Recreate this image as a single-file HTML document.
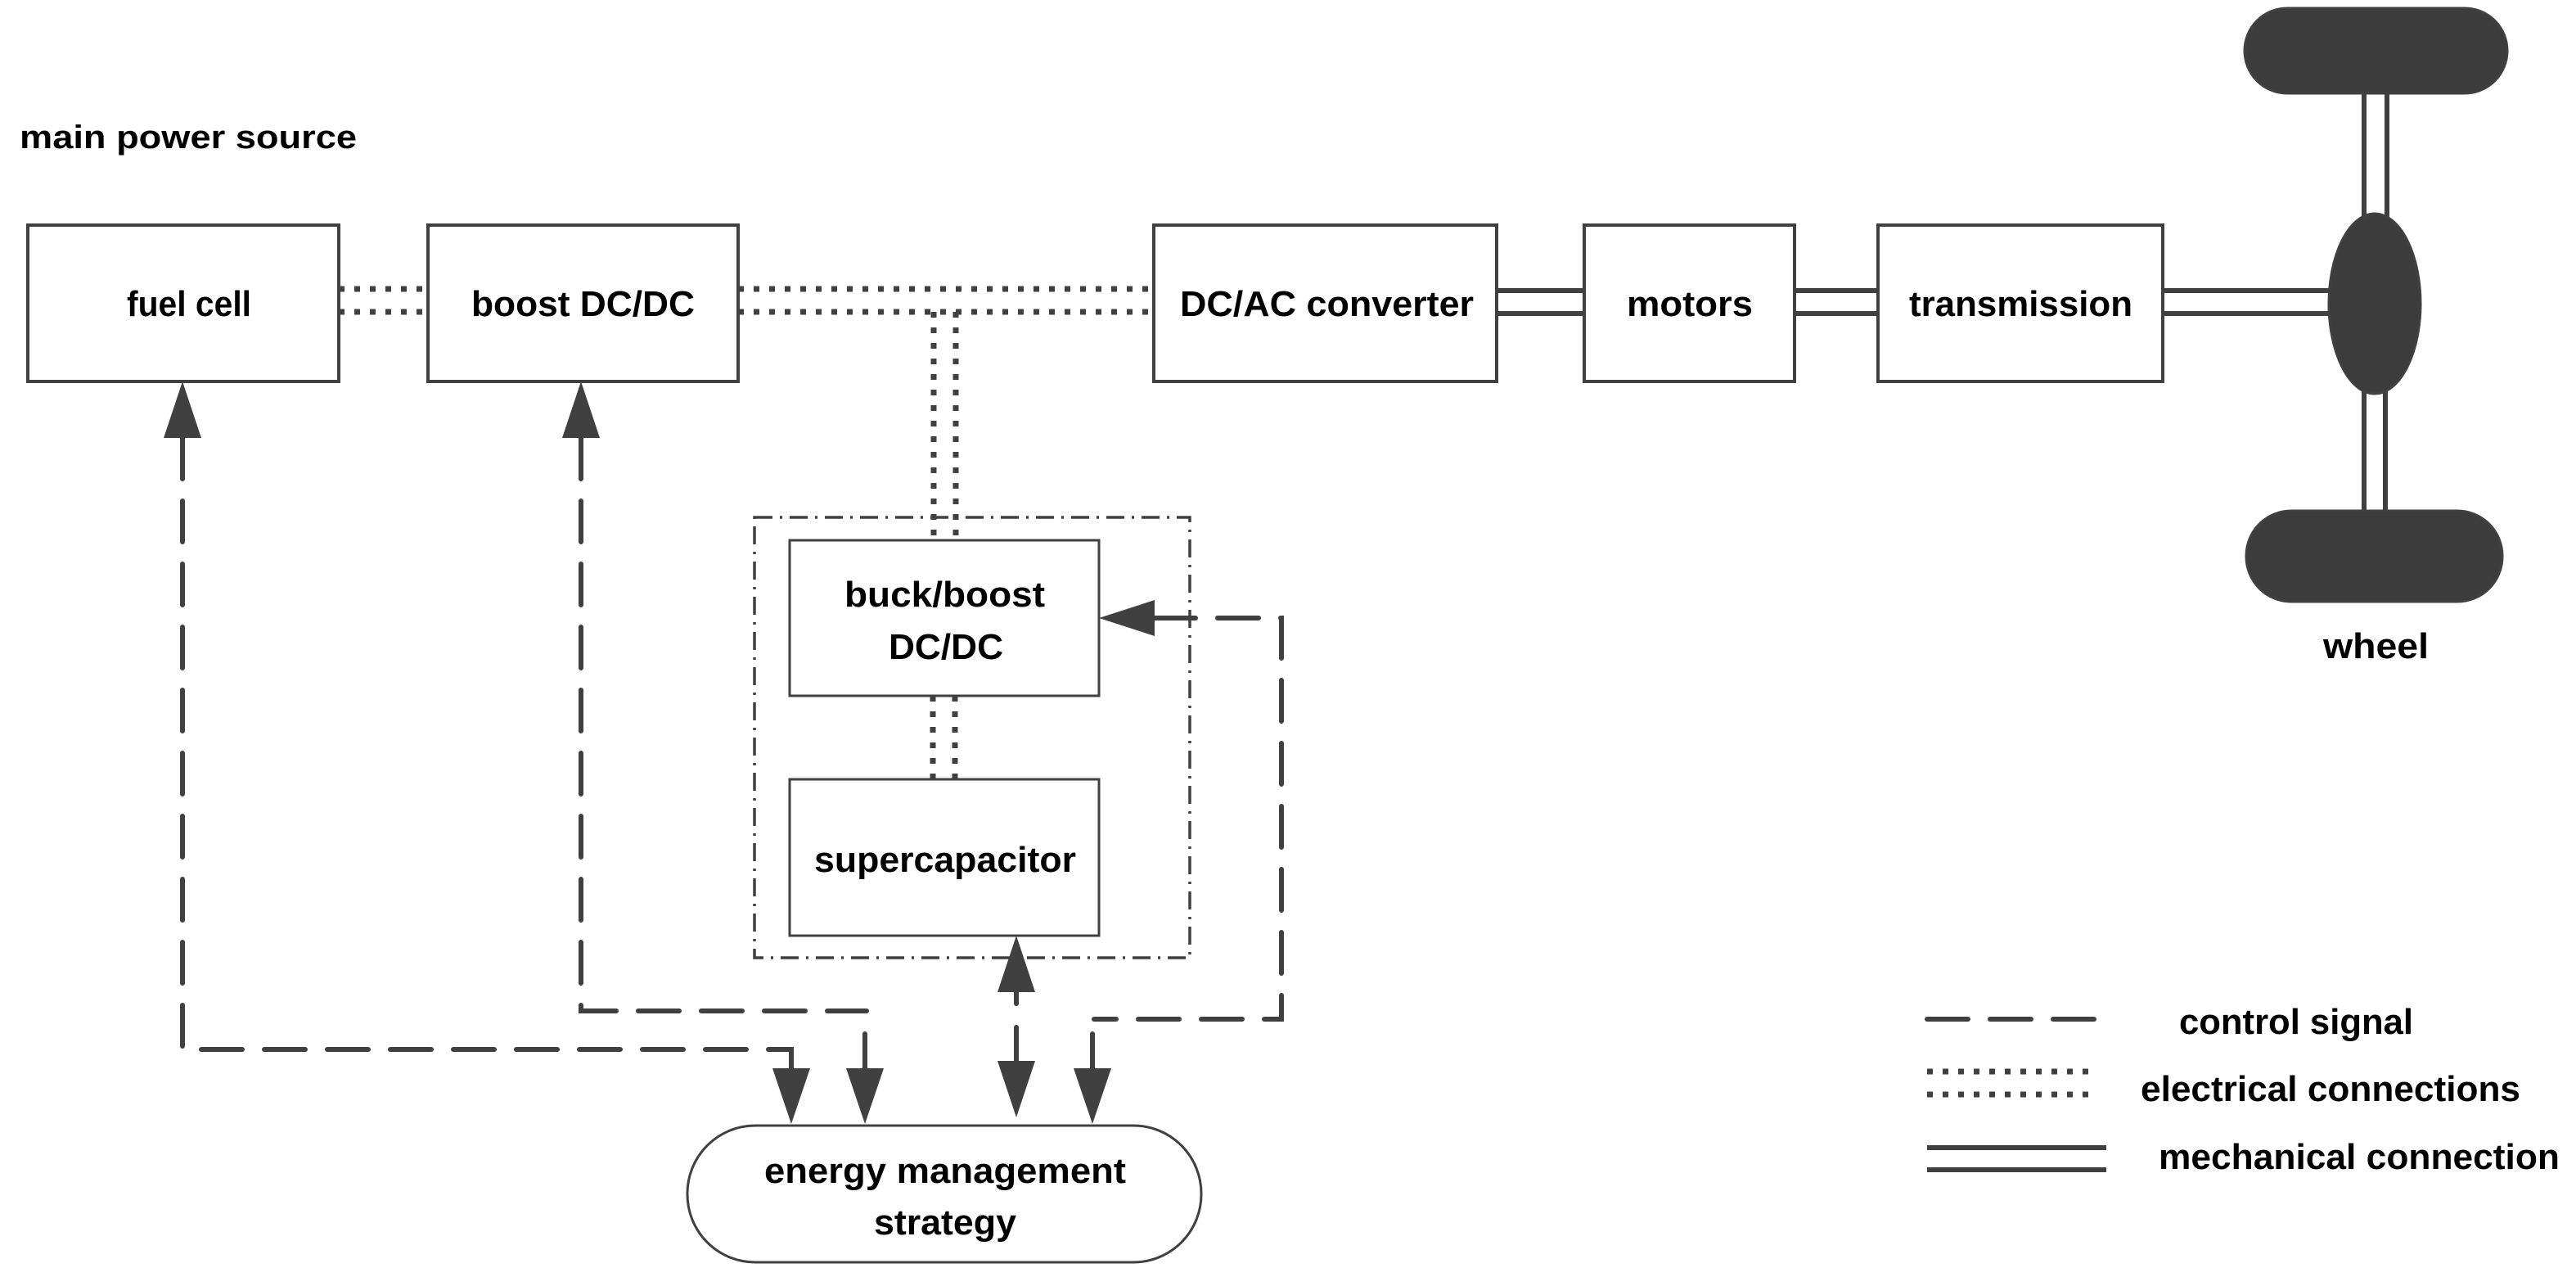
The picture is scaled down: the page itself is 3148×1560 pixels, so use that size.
<!DOCTYPE html>
<html><head><meta charset="utf-8"><style>html,body{margin:0;padding:0;background:#fff}svg{display:block}</style></head>
<body>
<svg width="3148" height="1560" viewBox="0 0 3148 1560" xmlns="http://www.w3.org/2000/svg" font-family="Liberation Sans, sans-serif" font-weight="bold" font-size="44" fill="#000">
<rect width="3148" height="1560" fill="#fff"/>
<g fill="#fff" stroke="#404040" stroke-width="4">
<rect x="34" y="275" width="380" height="191"/>
<rect x="523" y="275" width="379" height="191"/>
<rect x="1410" y="275" width="419" height="191"/>
<rect x="1936" y="275" width="257" height="191"/>
<rect x="2295" y="275" width="348" height="191"/>
<rect x="965" y="660" width="378" height="190" stroke-width="3"/>
<rect x="965" y="952" width="378" height="191" stroke-width="3"/>
<rect x="840" y="1375" width="628" height="167" rx="83" stroke-width="3"/>
</g>
<rect x="922" y="632" width="532" height="538" fill="none" stroke="#404040" stroke-width="3.5" stroke-dasharray="22 9 3 9"/>
<g stroke="#404040" stroke-width="7" fill="none" stroke-dasharray="7 12">
<path d="M414 353H523M414 381H523"/>
<path d="M902 353H1410M902 381H1410"/>
<path d="M1141 381V660M1168 381V660"/>
<path d="M1140 850V952M1167 850V952"/>
<path d="M2355 1309H2563M2355 1337H2563"/>
</g>
<g stroke="#404040" stroke-width="6" fill="none">
<path d="M1829 355H1936M1829 383H1936"/>
<path d="M2193 355H2295M2193 383H2295"/>
<path d="M2643 355H2850M2643 383H2850"/>
<path d="M2889 110V265M2917 110V265M2889 478V628M2915 478V628"/>
<path d="M2355 1402H2574M2355 1429H2574"/>
</g>
<g fill="#3c3c3c" stroke="#404040" stroke-width="3">
<rect x="2743" y="10" width="321" height="104" rx="52"/>
<rect x="2745" y="624" width="313" height="111" rx="55"/>
<ellipse cx="2902" cy="371" rx="56" ry="110"/>
</g>
<g stroke="#404040" stroke-width="6" fill="none" stroke-dasharray="50 27" stroke-linecap="round">
<path d="M223 535V1282H967V1305"/>
<path d="M710 535V1235H1059"/>
<path d="M1411 755H1566V1245H1337"/>
<path d="M2355 1245H2563"/>
</g>
<g stroke="#404040" stroke-width="6" fill="none" stroke-linecap="round">
<path d="M1057 1263V1305M1242 1212V1226M1242 1255V1296M1335 1263V1305"/>
</g>
<g fill="#404040">
<path d="M223 466L200 535H246Z"/>
<path d="M710 466L687 535H733Z"/>
<path d="M1343 755L1411 733V777Z"/>
<path d="M967 1373L944 1305H990Z"/>
<path d="M1057 1373L1034 1305H1080Z"/>
<path d="M1242 1143L1219 1212H1265Z"/>
<path d="M1242 1365L1219 1296H1265Z"/>
<path d="M1335 1373L1312 1305H1358Z"/>
</g>
<text x="24" y="181" textLength="412" lengthAdjust="spacingAndGlyphs" font-size="40">main power source</text>
<text x="155" y="386" textLength="152" lengthAdjust="spacingAndGlyphs">fuel cell</text>
<text x="576" y="386" textLength="273" lengthAdjust="spacingAndGlyphs">boost DC/DC</text>
<text x="1442" y="386" textLength="359" lengthAdjust="spacingAndGlyphs">DC/AC converter</text>
<text x="1988" y="386" textLength="154" lengthAdjust="spacingAndGlyphs">motors</text>
<text x="2333" y="386" textLength="273" lengthAdjust="spacingAndGlyphs">transmission</text>
<text x="2839" y="804" textLength="129" lengthAdjust="spacingAndGlyphs">wheel</text>
<text x="1032" y="741" textLength="245" lengthAdjust="spacingAndGlyphs">buck/boost</text>
<text x="1086" y="805" textLength="140" lengthAdjust="spacingAndGlyphs">DC/DC</text>
<text x="995" y="1065" textLength="320" lengthAdjust="spacingAndGlyphs">supercapacitor</text>
<text x="934" y="1445" textLength="442" lengthAdjust="spacingAndGlyphs">energy management</text>
<text x="1068" y="1508" textLength="174" lengthAdjust="spacingAndGlyphs">strategy</text>
<text x="2663" y="1263" textLength="286" lengthAdjust="spacingAndGlyphs">control signal</text>
<text x="2616" y="1345" textLength="464" lengthAdjust="spacingAndGlyphs">electrical connections</text>
<text x="2638" y="1428" textLength="490" lengthAdjust="spacingAndGlyphs">mechanical connection</text>
</svg>
</body></html>
